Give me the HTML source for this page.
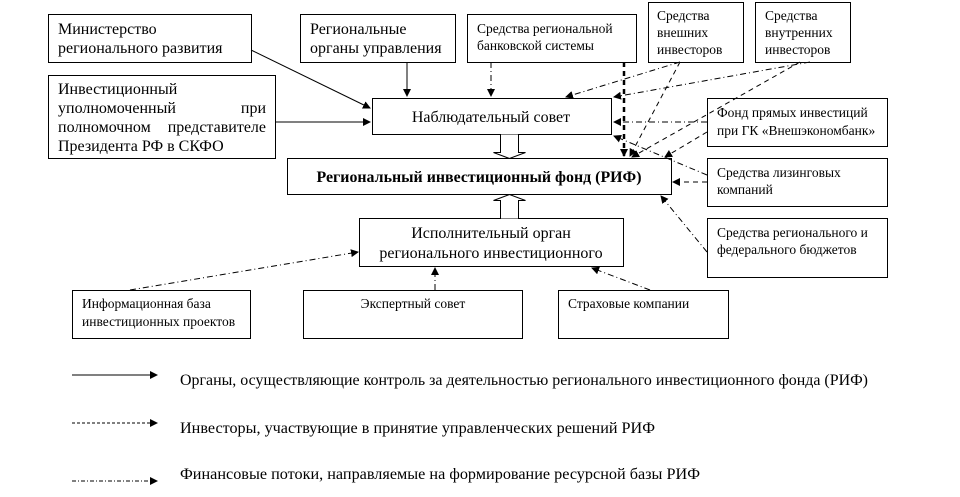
<!DOCTYPE html>
<html><head><meta charset="utf-8"><style>
html,body{margin:0;padding:0;background:#fff;width:960px;height:497px;overflow:hidden}
svg{display:block}
text{font-family:"Liberation Serif",serif;fill:#000}
</style></head><body>
<svg width="960" height="497" viewBox="0 0 960 497" xmlns="http://www.w3.org/2000/svg">
<defs>
<marker id="a" markerWidth="8" markerHeight="8" refX="7" refY="4" orient="auto" markerUnits="userSpaceOnUse"><path d="M0,0 L8,4 L0,8 z" fill="#000"/></marker>
</defs>
<g fill="#fff" stroke="#000" stroke-width="1">
<rect x="48.5" y="14.5" width="203" height="48"/>
<rect x="48.5" y="75.5" width="227" height="83"/>
<rect x="300.5" y="14.5" width="155" height="48"/>
<rect x="467.5" y="14.5" width="169" height="48"/>
<rect x="648.5" y="2.5" width="95" height="60"/>
<rect x="755.5" y="2.5" width="95" height="60"/>
<rect x="372.5" y="98.5" width="239" height="36"/>
<rect x="287.5" y="158.5" width="384" height="36"/>
<rect x="707.5" y="98.5" width="180" height="48"/>
<rect x="707.5" y="158.5" width="180" height="48"/>
<rect x="707.5" y="218.5" width="180" height="59"/>
<rect x="359.5" y="218.5" width="264" height="48"/>
<rect x="72.5" y="290.5" width="178" height="48"/>
<rect x="303.5" y="290.5" width="219" height="48"/>
<rect x="558.5" y="290.5" width="170" height="48"/>
<path d="M500.5,134.5 V152.5 H493.5 L509.5,158.5 L525.5,152.5 H518.5 V134.5"/>
<path d="M500.5,218.5 V200.5 H493.5 L509.5,194.5 L525.5,200.5 H518.5 V218.5"/>
</g>
<g fill="none" stroke="#000" stroke-width="1">
<line x1="251" y1="50" x2="370" y2="108" marker-end="url(#a)"/>
<line x1="275" y1="122" x2="370" y2="122" marker-end="url(#a)"/>
<line x1="407" y1="62" x2="407" y2="96" marker-end="url(#a)"/>
<g stroke-dasharray="6,3,1,3">
<line x1="491" y1="62" x2="491" y2="96" marker-end="url(#a)"/>
<line x1="680" y1="62" x2="566" y2="97" marker-end="url(#a)"/>
<line x1="810" y1="62" x2="614" y2="97" marker-end="url(#a)"/>
<line x1="707" y1="122" x2="614" y2="122" marker-end="url(#a)"/>
<line x1="707" y1="175" x2="614" y2="136" marker-end="url(#a)"/>
<line x1="707" y1="252" x2="661" y2="196" marker-end="url(#a)"/>
<line x1="130" y1="290" x2="358" y2="252" marker-end="url(#a)"/>
<line x1="435" y1="290" x2="435" y2="268" marker-end="url(#a)"/>
<line x1="650" y1="290" x2="592" y2="268" marker-end="url(#a)"/>
</g>
<g stroke-dasharray="5,4">
<line x1="624" y1="62" x2="624" y2="156" stroke-width="2.5" marker-end="url(#a)"/>
<line x1="680" y1="62" x2="630" y2="156" marker-end="url(#a)"/>
<line x1="800" y1="62" x2="632" y2="157" marker-end="url(#a)"/>
<line x1="707" y1="132" x2="665" y2="157" marker-end="url(#a)"/>
<line x1="707" y1="182" x2="673" y2="182" marker-end="url(#a)"/>
</g>
<line x1="72" y1="375" x2="157" y2="375" marker-end="url(#a)"/>
<line x1="72" y1="423" x2="157" y2="423" stroke-dasharray="3,2" marker-end="url(#a)"/>
<line x1="72" y1="481" x2="157" y2="481" stroke-dasharray="4,2,1,2" marker-end="url(#a)"/>
</g>
<g font-size="16">
<text x="58" y="34">Министерство</text>
<text x="58" y="53">регионального развития</text>
<text x="58" y="94">Инвестиционный</text>
<text x="58" y="113">уполномоченный</text><text x="266" y="113" text-anchor="end">при</text>
<text x="58" y="132">полномочном</text><text x="266" y="132" text-anchor="end">представителе</text>
<text x="58" y="151">Президента РФ в СКФО</text>
<text x="310" y="34">Региональные</text>
<text x="310" y="53">органы управления</text>
<text x="491" y="122" text-anchor="middle">Наблюдательный совет</text>
<text x="491" y="238" text-anchor="middle">Исполнительный орган</text>
<text x="491" y="258" text-anchor="middle">регионального инвестиционного</text>
<text x="180" y="385" textLength="688" lengthAdjust="spacingAndGlyphs">Органы, осуществляющие контроль за деятельностью регионального инвестиционного фонда (РИФ)</text>
<text x="180" y="433" textLength="475" lengthAdjust="spacingAndGlyphs">Инвесторы, участвующие в принятие управленческих решений РИФ</text>
<text x="180" y="479" textLength="520" lengthAdjust="spacingAndGlyphs">Финансовые потоки, направляемые на формирование ресурсной базы РИФ</text>
</g>
<text x="479" y="182" font-size="16" font-weight="bold" text-anchor="middle" textLength="325" lengthAdjust="spacingAndGlyphs">Региональный инвестиционный фонд (РИФ)</text>
<g font-size="13.5">
<text x="477" y="33">Средства региональной</text>
<text x="477" y="50">банковской системы</text>
<text x="657" y="20">Средства</text>
<text x="657" y="37">внешних</text>
<text x="657" y="54">инвесторов</text>
<text x="765" y="20">Средства</text>
<text x="765" y="37">внутренних</text>
<text x="765" y="54">инвесторов</text>
<text x="717" y="117">Фонд прямых инвестиций</text>
<text x="717" y="135">при ГК «Внешэкономбанк»</text>
<text x="717" y="177">Средства лизинговых</text>
<text x="717" y="194">компаний</text>
<text x="717" y="237">Средства регионального и</text>
<text x="717" y="254">федерального бюджетов</text>
<text x="82" y="308">Информационная база</text>
<text x="82" y="326">инвестиционных проектов</text>
<text x="413" y="308" text-anchor="middle">Экспертный совет</text>
<text x="568" y="308">Страховые компании</text>
</g>
</svg>
</body></html>
